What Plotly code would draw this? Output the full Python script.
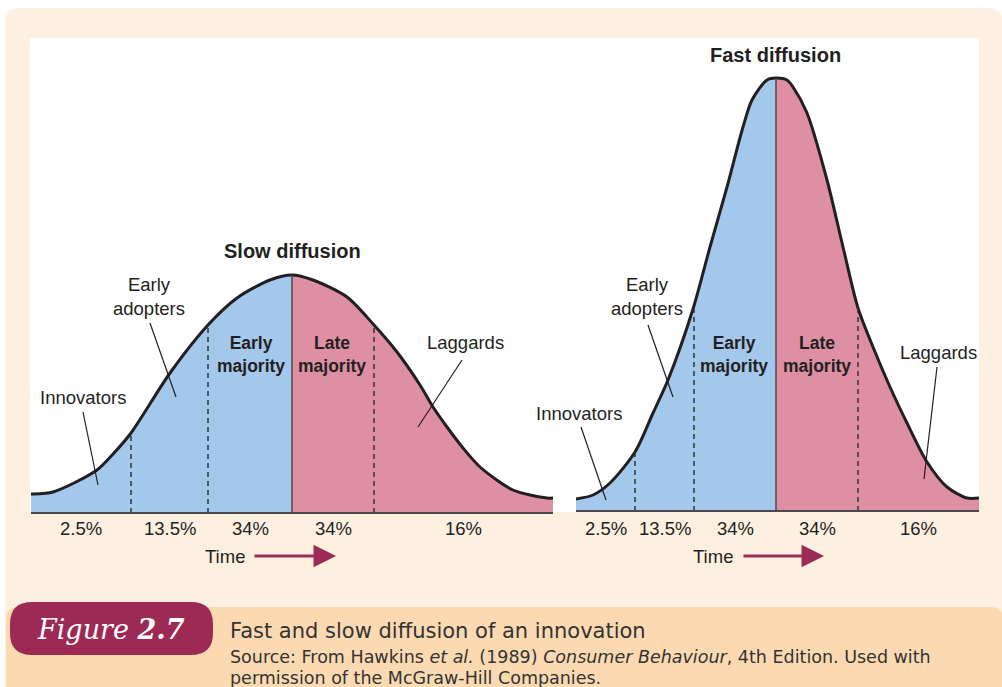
import numpy as np
import plotly.graph_objects as go

W, H = 1002, 687

# ---------------- data ----------------
# Slow diffusion: time position (panel units) and curve height above baseline
slow_x = [0, 1, 22, 66, 83, 100, 139, 177, 206, 239, 261, 282, 316, 343, 366, 389, 402, 416, 432, 449, 482, 516, 522]
slow_y = [19, 19, 21, 43, 60, 80, 140, 188, 215, 233, 238, 233, 216, 188, 161, 128, 106, 86, 65, 46, 23, 15, 15]
slow_bounds = [0, 100, 177, 261, 343, 522]

# Fast diffusion
fast_x = [0, 17, 34, 59, 77, 92, 117, 134, 151, 167, 176, 191, 200, 211, 217, 231, 251, 267, 282, 297, 314, 331, 351, 371, 391, 403]
fast_y = [12, 16, 28, 59, 98, 131, 202, 264, 324, 384, 411, 431, 433, 431, 424, 398, 331, 264, 203, 164, 124, 88, 49, 24, 13, 13]
fast_bounds = [0, 59, 118, 200, 282, 403]

shares = ["2.5%", "13.5%", "34%", "34%", "16%"]
titles = ["Slow diffusion", "Fast diffusion"]
axis_label = "Time"

BLUE = "#A3C8EB"
PINK = "#DE8FA3"
INK = "#231F20"
MAROON = "#9C2A54"
CREAM = "#FDF0E1"
PEACH = "#FCDAB1"


def px(x):
    return x / W


def py(y):
    return 1 - y / H


def rrect(x0, y0, x1, y1, r):
    pts = [
        ("M", [(x0 + r, y0)]), ("L", [(x1 - r, y0)]), ("Q", [(x1, y0), (x1, y0 + r)]),
        ("L", [(x1, y1 - r)]), ("Q", [(x1, y1), (x1 - r, y1)]), ("L", [(x0 + r, y1)]),
        ("Q", [(x0, y1), (x0, y1 - r)]), ("L", [(x0, y0 + r)]), ("Q", [(x0, y0), (x0 + r, y0)]),
    ]
    s = ""
    for cmd, ps in pts:
        s += cmd + " " + " ".join(f"{px(a):.5f},{py(b):.5f}" for a, b in ps) + " "
    return s + "Z"


fig = go.Figure()
shapes = []
annotations = []

FONT = "Liberation Sans, Arial, sans-serif"
LBL = 18.5


def panel(xs, ys, bounds, xa, ya, title, title_pos, labels):
    xs = np.array(xs, float)
    ys = np.array(ys, float)
    c = bounds[3]
    left = xs <= c
    right = xs >= c
    fig.add_trace(go.Scatter(x=xs[left], y=ys[left], xaxis=xa, yaxis=ya, mode="lines",
                             line=dict(width=0, shape="spline", smoothing=0.8),
                             fill="tozeroy", fillcolor=BLUE, hoverinfo="skip", showlegend=False))
    fig.add_trace(go.Scatter(x=xs[right], y=ys[right], xaxis=xa, yaxis=ya, mode="lines",
                             line=dict(width=0, shape="spline", smoothing=0.8),
                             fill="tozeroy", fillcolor=PINK, hoverinfo="skip", showlegend=False))
    xr = "x" if xa == "x" else "x2"
    yr = "y" if ya == "y" else "y2"
    for i, b in enumerate(bounds[1:-1]):
        top = float(np.interp(b, xs, ys))
        if i == 2:
            shapes.append(dict(type="line", xref=xr, yref=yr, x0=b, x1=b, y0=0, y1=top,
                               line=dict(color="#4a4a4a", width=1.5)))
        else:
            shapes.append(dict(type="line", xref=xr, yref=yr, x0=b, x1=b, y0=0, y1=top,
                               line=dict(color="#333333", width=1.5, dash="5px,4px")))
    fig.add_trace(go.Scatter(x=xs, y=ys, xaxis=xa, yaxis=ya, mode="lines",
                             line=dict(color=INK, width=3, shape="spline", smoothing=0.8),
                             hoverinfo="skip", showlegend=False))
    shapes.append(dict(type="line", xref=xr, yref=yr, x0=bounds[0] - 3, x1=bounds[-1], y0=0, y1=0,
                       line=dict(color="#4a4a4a", width=2)))
    for i, s in enumerate(shares):
        mid = (bounds[i] + bounds[i + 1]) / 2
        annotations.append(dict(x=mid, y=labels["pct_y"], xref=xr, yref=yr, text=s, showarrow=False,
                                xanchor="center", yanchor="middle",
                                font=dict(family=FONT, size=LBL, color=INK)))
    annotations.append(dict(x=title_pos[0], y=title_pos[1], xref=xr, yref=yr, text=f"<b>{title}</b>",
                            showarrow=False, xanchor="center", yanchor="middle",
                            font=dict(family=FONT, size=20, color=INK)))
    for t, (x, y), bold in labels["texts"]:
        txt = f"<b>{t}</b>" if bold else t
        annotations.append(dict(x=x, y=y, xref=xr, yref=yr, text=txt, showarrow=False,
                                xanchor="center", yanchor="middle",
                                font=dict(family=FONT, size=17.5 if bold else LBL, color=INK)))
    for (x0, y0, x1, y1) in labels["pointers"]:
        shapes.append(dict(type="line", xref=xr, yref=yr, x0=x0, y0=y0, x1=x1, y1=y1,
                           line=dict(color=INK, width=1.2)))
    tx, ty, a0, a1 = labels["time"]
    annotations.append(dict(x=tx, y=ty, xref=xr, yref=yr, text=axis_label, showarrow=False,
                            xanchor="center", yanchor="middle",
                            font=dict(family=FONT, size=LBL, color=INK)))
    annotations.append(dict(x=a1, y=ty, ax=a0, ay=ty, xref=xr, yref=yr, axref=xr, ayref=yr,
                            text="", showarrow=True, arrowhead=2, arrowsize=1.5, arrowwidth=3,
                            arrowcolor=MAROON))


panel(slow_x, slow_y, slow_bounds, "x", "y", titles[0], (261, 262), dict(
    pct_y=-15,
    texts=[("Innovators", (52, 116), False), ("Early<br>adopters", (118, 217), False),
           ("Early<br>majority", (220, 159), True), ("Late<br>majority", (301, 159), True),
           ("Laggards", (434, 171), False)],
    pointers=[(52, 101, 67, 28), (119, 190, 145, 116), (431, 153, 387, 86)],
    time=(194, -43, 222, 305)))

panel(fast_x, fast_y, fast_bounds, "x2", "y2", titles[1], (199, 456), dict(
    pct_y=-17,
    texts=[("Innovators", (3, 98), False), ("Early<br>adopters", (71, 215), False),
           ("Early<br>majority", (158, 157), True), ("Late<br>majority", (241, 157), True),
           ("Laggards", (362, 159), False)],
    pointers=[(5, 84, 30, 11), (72, 186, 97, 114), (361, 144, 348, 32)],
    time=(137, -45, 166, 248)))

bg = [
    dict(type="path", path=rrect(5, 8, 1003, 720, 14), fillcolor=CREAM, line=dict(width=0)),
    dict(type="rect", x0=px(30), x1=px(979), y0=py(512), y1=py(38), fillcolor="white", line=dict(width=0)),
    dict(type="path", path=rrect(6, 607, 1003, 720, 12), fillcolor=PEACH, line=dict(width=0)),
    dict(type="path", path=rrect(10, 602, 213, 655, 22), fillcolor=MAROON, line=dict(width=0)),
]
for s in bg:
    s.update(xref="paper", yref="paper", layer="below")
shapes = bg + shapes

CAP = "DejaVu Sans, Liberation Sans, sans-serif"
annotations += [
    dict(x=px(111), y=py(629), xref="paper", yref="paper", showarrow=False, xanchor="center", yanchor="middle",
         text="<i>Figure</i> <b><i>2.7</i></b>", font=dict(family="DejaVu Serif, serif", size=27, color="white")),
    dict(x=px(228), y=py(631), xref="paper", yref="paper", xanchor="left", yanchor="middle", showarrow=False,
         text="Fast and slow diffusion of an innovation", font=dict(family=CAP, size=21, color="#333333")),
    dict(x=px(228), y=py(657), xref="paper", yref="paper", xanchor="left", yanchor="middle", showarrow=False,
         text="Source: From Hawkins <i>et al.</i> (1989) <i>Consumer Behaviour</i>, 4th Edition. Used with",
         font=dict(family=CAP, size=17.5, color="#333333")),
    dict(x=px(228), y=py(678), xref="paper", yref="paper", xanchor="left", yanchor="middle", showarrow=False,
         text="permission of the McGraw-Hill Companies.",
         font=dict(family=CAP, size=17.5, color="#333333")),
]

ax_common = dict(visible=False, fixedrange=True)
fig.update_layout(
    width=W, height=H, margin=dict(l=0, r=0, t=0, b=0),
    paper_bgcolor="white", plot_bgcolor="rgba(0,0,0,0)",
    xaxis=dict(domain=[px(31), px(553)], range=[0, 522], **ax_common),
    yaxis=dict(domain=[py(580), py(38)], range=[-67, 475], **ax_common),
    xaxis2=dict(domain=[px(576), px(979)], range=[0, 403], anchor="y2", **ax_common),
    yaxis2=dict(domain=[py(580), py(38)], range=[-69, 473], anchor="x2", **ax_common),
    shapes=shapes, annotations=annotations, showlegend=False,
)

fig.write_html("out.html", config=dict(displayModeBar=False),
               post_script="document.body.style.margin='0';document.body.style.overflow='hidden';")
